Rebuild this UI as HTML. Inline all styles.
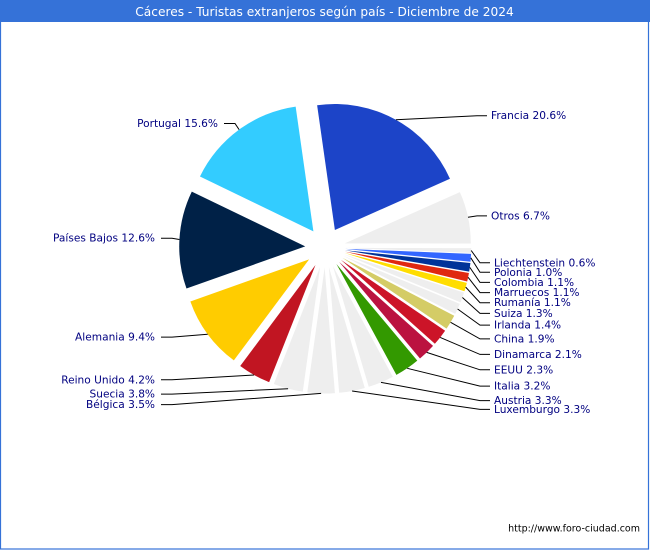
<!DOCTYPE html>
<html lang="es">
<head>
<meta charset="utf-8">
<title>Cáceres - Turistas extranjeros según país - Diciembre de 2024</title>
<style>
html,body{margin:0;padding:0;background:#fff;}
svg{display:block;}
text{font-family:"DejaVu Sans","Liberation Sans",sans-serif;}
</style>
</head>
<body>
<svg id="chart" xmlns="http://www.w3.org/2000/svg" width="650" height="550" viewBox="0 0 650 550">
  <rect x="0" y="0" width="650" height="550" fill="#ffffff"/>
  <rect x="0.5" y="0.5" width="648" height="548.5" fill="none" stroke="#3572d8" stroke-width="1.2"/>
  <rect x="0" y="0" width="650" height="22" fill="#3572d8"/>
  <text x="324.5" y="16" text-anchor="middle" font-size="12.2" fill="#ffffff">Cáceres - Turistas extranjeros según país - Diciembre de 2024</text>
  <g id="slices"></g>
  <g id="leaders"></g>
  <g id="labels"></g>
  <text x="640" y="531.5" text-anchor="end" font-size="9.5" fill="#000000">http://www.foro-ciudad.com</text>
</svg>
<script>
const categories = ["Francia","Otros","Liechtenstein","Polonia","Colombia","Marruecos","Rumanía","Suiza","Irlanda","China","Dinamarca","EEUU","Italia","Austria","Luxemburgo","Bélgica","Suecia","Reino Unido","Alemania","Países Bajos","Portugal"];
const shares = [20.6,6.7,0.6,1.0,1.1,1.1,1.1,1.3,1.4,1.9,2.1,2.3,3.2,3.3,3.3,3.5,3.8,4.2,9.4,12.6,15.6];
const palette = ["#1c44c8","#eeeeee","#eeeeee","#3366ff","#003399","#e02810","#ffdd00","#eeeeee","#eeeeee","#d4cc66","#cc1428","#bb1240","#339900","#eeeeee","#eeeeee","#eeeeee","#eeeeee","#c11522","#ffcc00","#002147","#33ccff"];

const NS = "http://www.w3.org/2000/svg";
const cx = 325.2, cy = 247.5, radius = 126, explode = 20, anchorRadius = 146;
const startAngle = -8.1;
const total = shares.reduce((a, b) => a + b, 0);

function angleScale(v) { return v / total * 360; }
function polar(r, deg, ox, oy) {
  const t = deg * Math.PI / 180;
  return [ox + r * Math.sin(t), oy - r * Math.cos(t)];
}
function slug(name) { return name.toLowerCase().replace(/\s+/g, "-"); }

const slicesG = document.getElementById("slices");
const leadersG = document.getElementById("leaders");
const labelsG = document.getElementById("labels");

/* Build layout records for each slice from the data arrays. */
let cursor = startAngle;
const items = categories.map(function (name, i) {
  const a0 = cursor, a1 = cursor + angleScale(shares[i]);
  cursor = a1;
  const mid = (a0 + a1) / 2;
  const s = -Math.cos(mid * Math.PI / 180);
  const right = mid < 180;
  let ly;
  if (right) {
    ly = mid > 90 ? 262 + 150 * s - 5 * Math.exp(-40 * s) : 247 + 150 * s;
  } else {
    ly = 246.6 + 152.5 * s;
  }
  return { name: name, i: i, a0: a0, a1: a1, mid: mid, right: right, ly: ly };
});

/* Push overlapping left-hand labels downward. */
const leftItems = items.filter(function (d) { return !d.right; }).sort(function (a, b) { return a.ly - b.ly; });
leftItems.forEach(function (d, k) {
  if (k > 0 && d.ly < leftItems[k - 1].ly + 10.5) { d.ly = leftItems[k - 1].ly + 10.5; }
});

items.forEach(function (d) {
  const apex = polar(explode, d.mid, cx, cy);
  const p0 = polar(radius, d.a0, apex[0], apex[1]);
  const p1 = polar(radius, d.a1, apex[0], apex[1]);
  const large = d.a1 - d.a0 > 180 ? 1 : 0;
  const slice = document.createElementNS(NS, "path");
  slice.setAttribute("d", "M" + apex[0].toFixed(2) + " " + apex[1].toFixed(2) + " L" + p0[0].toFixed(2) + " " + p0[1].toFixed(2) + " A" + radius + " " + radius + " 0 " + large + " 1 " + p1[0].toFixed(2) + " " + p1[1].toFixed(2) + " Z");
  slice.setAttribute("fill", palette[d.i]);
  
  
  slicesG.appendChild(slice);

  const anchor = polar(anchorRadius, d.mid, cx, cy);
  let lineEnd, elbow, textX, align;
  if (d.right) {
    lineEnd = d.mid > 90 ? 490 : 487;
    elbow = lineEnd - 10;
    textX = lineEnd + 4;
    align = "start";
  } else {
    lineEnd = d.mid > 300 ? 224 : 161;
    elbow = lineEnd + 11;
    textX = lineEnd - 6;
    align = "end";
  }
  const line = document.createElementNS(NS, "polyline");
  line.setAttribute("points", anchor[0].toFixed(1) + "," + anchor[1].toFixed(1) + " " + elbow + "," + d.ly.toFixed(1) + " " + lineEnd + "," + d.ly.toFixed(1));
  line.setAttribute("fill", "none");
  line.setAttribute("stroke", "#000000");
  line.setAttribute("stroke-width", "1");
  
  
  leadersG.appendChild(line);

  const label = document.createElementNS(NS, "text");
  label.setAttribute("x", textX);
  label.setAttribute("y", (d.ly + 3.5).toFixed(1));
  label.setAttribute("text-anchor", align);
  label.setAttribute("font-size", "10.6");
  label.setAttribute("fill", "#000080");
  label.textContent = d.name + " " + shares[d.i].toFixed(1) + "%";
  
  
  labelsG.appendChild(label);
});
</script>
</body>
</html>
